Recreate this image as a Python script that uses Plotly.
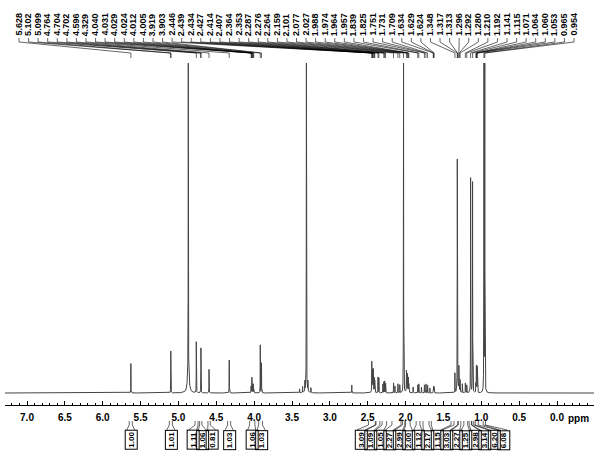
import numpy as np
import plotly.graph_objects as go

# ---------------- data ----------------
label_ppm = [5.628, 5.102, 5.099, 4.764, 4.704, 4.702, 4.596, 4.329, 4.040, 4.031,
             4.029, 4.024, 4.012, 4.005, 3.919, 3.903, 2.446, 2.439, 2.434, 2.427,
             2.414, 2.407, 2.364, 2.353, 2.287, 2.276, 2.264, 2.159, 2.101, 2.077,
             2.027, 1.988, 1.974, 1.964, 1.957, 1.839, 1.825, 1.751, 1.731, 1.709,
             1.634, 1.629, 1.624, 1.348, 1.317, 1.313, 1.296, 1.292, 1.280, 1.210,
             1.192, 1.141, 1.115, 1.071, 1.064, 1.060, 1.053, 0.965, 0.954]

# sharp lines: position (ppm) and height (intensity units)
peak_ppm = [5.628, 5.101, 4.870, 4.764, 4.703, 4.596, 4.329,
            4.040, 4.031, 4.029, 4.024, 4.012, 4.005, 3.919, 3.903,
            3.400, 3.360, 3.330, 3.310, 3.290, 3.250, 2.710,
            2.446, 2.439, 2.434, 2.427, 2.414, 2.407, 2.364, 2.353,
            2.300, 2.287, 2.276, 2.264, 2.159, 2.140, 2.101, 2.077, 2.027,
            1.988, 1.974, 1.964, 1.957, 1.900, 1.839, 1.825, 1.790,
            1.751, 1.731, 1.709, 1.680, 1.634, 1.629, 1.624,
            1.348, 1.317, 1.313, 1.296, 1.292, 1.280, 1.250, 1.210, 1.192,
            1.141, 1.115, 1.071, 1.064, 1.060, 1.053, 0.965, 0.954]
peak_height = [30, 42, 400, 52, 45, 24, 33,
               8, 12, 12, 10, 9, 7, 48, 30,
               4, 6, 10, 400, 10, 5, 8,
               30, 22, 18, 20, 14, 13, 16, 15,
               9, 11, 12, 10, 10, 7, 9, 8, 400,
               20, 16, 14, 12, 6, 8, 9, 6,
               8, 9, 8, 5, 6, 6, 6,
               20, 228, 55, 22, 18, 12, 9, 10, 8,
               215, 211, 25, 25, 25, 25, 400, 400]
# broad underlying components
broad_ppm = [4.870, 3.310, 2.430, 1.980, 1.300]
broad_height = [22, 6, 4, 4, 4]

integral_text = ["1.00", "1.01", "1.11", "1.06", "0.81", "1.03", "1.06", "1.03",
                 "3.09", "1.09", "1.05", "2.27", "2.99", "2.00", "1.12", "2.17",
                 "1.15", "3.03", "2.27", "1.25", "2.98", "3.14", "6.20", "6.08"]
integral_from = [5.65, 5.12, 4.78, 4.72, 4.61, 4.35, 4.06, 3.94,
                 2.49, 2.39, 2.31, 2.18, 2.04, 2.00, 1.86, 1.77,
                 1.66, 1.36, 1.305, 1.23, 1.16, 1.125, 1.08, 0.975]
integral_to = [5.61, 5.08, 4.74, 4.69, 4.58, 4.31, 3.99, 3.89,
               2.40, 2.34, 2.25, 2.06, 2.01, 1.94, 1.81, 1.69,
               1.40, 1.31, 1.27, 1.18, 1.13, 1.10, 1.04, 0.945]

tick_values = [7.0, 6.5, 6.0, 5.5, 5.0, 4.5, 4.0, 3.5, 3.0, 2.5, 2.0, 1.5, 1.0, 0.5, 0.0]
tick_text = ["7.0", "6.5", "6.0", "5.5", "5.0", "4.5", "4.0", "3.5", "3.0", "2.5",
             "2.0", "1.5", "1.0", "0.5", "0.0"]

# ---------------- layout constants ----------------
W, H = 599, 458
X0, X1 = 5, 594                      # pixel extent of the ppm axis
PX_PER_PPM = 75.714
PPM_L = 7.0 + (27 - X0) / PX_PER_PPM
PPM_R = 0.0 - (X1 - 557) / PX_PER_PPM
Y_AXIS_PX, Y_TOP_PX = 405, 63
Y_MIN, Y_MAX = -12, 330

def ppm_to_px(p):
    return X0 + (PPM_L - p) / (PPM_L - PPM_R) * (X1 - X0)

def px_to_ppm(px):
    return PPM_L - (px - X0) / (X1 - X0) * (PPM_L - PPM_R)

def py(pix):
    return (H - pix) / H

# ---------------- spectrum ----------------
x = np.arange(PPM_L, PPM_R, -0.0004)
y = np.zeros_like(x)
g = 0.0012
for p, h in zip(peak_ppm, peak_height):
    y += h * g * g / ((x - p) ** 2 + g * g)
gb = 0.012
for p, h in zip(broad_ppm, broad_height):
    y += h * gb * gb / ((x - p) ** 2 + gb * gb)

fig = go.Figure()
fig.add_trace(go.Scatter(x=x, y=np.minimum(y, Y_MAX + 5), mode="lines",
                         line=dict(color="#444444", width=1), hoverinfo="skip"))

shapes = []
annotations = []
FONT = "Liberation Sans, Arial, sans-serif"

# peak labels with leader lines
n = len(label_ppm)
for i, p in enumerate(label_ppm):
    lx = 19 + i * (574 - 19) / (n - 1)
    lp = px_to_ppm(lx)
    annotations.append(dict(x=lp, xref="x", y=py(38), yref="paper", text=f"<b>{p:.3f}</b>",
                            textangle=-90, showarrow=False, xanchor="center", yanchor="bottom",
                            font=dict(family=FONT, size=9, color="black")))
    path = f"M {lp},{py(38)} L {lp},{py(42)} L {p},{py(53)} L {p},{py(58)}"
    shapes.append(dict(type="path", path=path, xref="x", yref="paper",
                       line=dict(color="black", width=0.6)))

# integral labels: spread boxes to avoid overlap
def spread(centers, gap):
    clusters = []
    for c in centers:
        clusters.append([c])
        while len(clusters) > 1:
            a, b = clusters[-2], clusters[-1]
            ca, cb = np.mean(a), np.mean(b)
            a_last = ca + (len(a) - 1) / 2 * gap
            b_first = cb - (len(b) - 1) / 2 * gap
            if b_first - a_last < gap:
                clusters[-2] = a + b
                clusters.pop()
            else:
                break
    out = []
    for cl in clusters:
        c = np.mean(cl)
        m = len(cl)
        out += [c + (k - (m - 1) / 2) * gap for k in range(m)]
    return out

centers = [ppm_to_px((a + b) / 2) for a, b in zip(integral_from, integral_to)]
label_px = spread(centers, 9.5)
for t, a, b, lx in zip(integral_text, integral_from, integral_to, label_px):
    l = px_to_ppm(lx - 4)
    r = px_to_ppm(lx + 4)
    path = (f"M {a},{py(421)} L {a},{py(425)} L {l},{py(430)} "
            f"M {b},{py(421)} L {b},{py(425)} L {r},{py(430)}")
    shapes.append(dict(type="path", path=path, xref="x", yref="paper",
                       line=dict(color="black", width=0.6)))
    annotations.append(dict(x=px_to_ppm(lx), xref="x", y=py(430), yref="paper", text=f"<b>{t}</b>",
                            textangle=-90, showarrow=False, xanchor="center", yanchor="top",
                            bordercolor="black", borderwidth=1, borderpad=1,
                            font=dict(family=FONT, size=8, color="black")))

annotations.append(dict(x=px_to_ppm(578), xref="x", y=py(418), yref="paper", text="<b>ppm</b>",
                        showarrow=False, xanchor="center", yanchor="middle",
                        font=dict(family=FONT, size=10, color="black")))

fig.update_layout(
    width=W, height=H, margin=dict(l=0, r=0, t=0, b=0, autoexpand=False),
    paper_bgcolor="white", plot_bgcolor="white", showlegend=False,
    shapes=shapes, annotations=annotations,
    xaxis=dict(domain=[X0 / W, X1 / W], range=[PPM_L, PPM_R], showgrid=False, zeroline=False,
               showline=True, linecolor="black", linewidth=1,
               ticks="inside", ticklen=4, tickcolor="black", tickwidth=1,
               tickvals=tick_values, ticktext=[f"<b>{t}</b>" for t in tick_text],
               tickfont=dict(family=FONT, size=10, color="black"),
               minor=dict(dtick=0.1, ticks="inside", ticklen=2, tickcolor="black"),
               ticklabelstandoff=3),
    yaxis=dict(domain=[py(Y_AXIS_PX), py(Y_TOP_PX)], range=[Y_MIN, Y_MAX], visible=False),
)

fig.write_html("out.html", config={"displayModeBar": False, "staticPlot": True},
               post_script="document.body.style.margin='0';document.body.style.overflow='hidden';")
